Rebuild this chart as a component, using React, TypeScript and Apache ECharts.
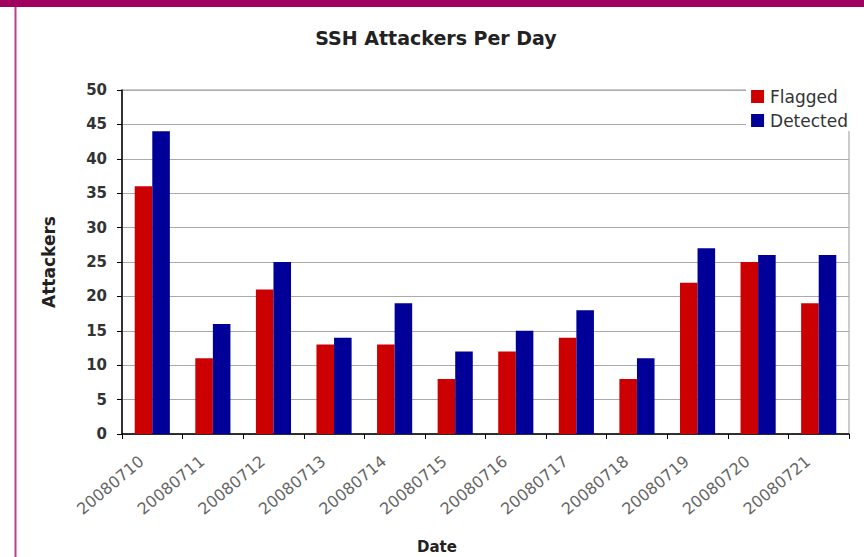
import React, { useEffect, useRef } from "react";
import * as echarts from "echarts";

const categories = [
  "20080710", "20080711", "20080712", "20080713", "20080714", "20080715",
  "20080716", "20080717", "20080718", "20080719", "20080720", "20080721",
];
const flagged = [36, 11, 21, 13, 13, 8, 12, 14, 8, 22, 25, 19];
const detected = [44, 16, 25, 14, 19, 12, 15, 18, 11, 27, 26, 26];
const seriesNames = ["Flagged", "Detected"];
const titleText = "SSH Attackers Per Day";
const yName = "Attackers";
const xName = "Date";

const FONT = "'DejaVu Sans', Verdana, sans-serif";

export default function App() {
  const ref = useRef<HTMLDivElement>(null);
  useEffect(() => {
    if (!ref.current) return;
    const chart = echarts.init(ref.current, undefined, { renderer: "svg" });
    chart.setOption({
      animation: false,
      backgroundColor: "#ffffff",
      title: {
        text: titleText,
        left: 431,
        textAlign: "center",
        top: 23,
        textStyle: { fontFamily: FONT, fontSize: 19, fontWeight: "bold", color: "#222" },
      },
      graphic: [
        { type: "rect", left: 0, top: 0, shape: { width: 864, height: 7 }, style: { fill: "#A0005F" }, z: 10 },
        { type: "line", shape: { x1: 15.5, y1: 7, x2: 15.5, y2: 557 }, style: { stroke: "#B8408A", lineWidth: 2 }, z: 10 },
        {
          type: "text",
          x: 437,
          y: 547,
          style: {
            text: xName,
            fontFamily: FONT,
            fontSize: 15,
            fontWeight: "bold",
            fill: "#222",
            align: "center",
            verticalAlign: "middle",
          },
          z: 10,
        },
      ],
      legend: {
        data: seriesNames,
        orient: "vertical",
        right: 14,
        top: 86,
        icon: "rect",
        itemWidth: 13,
        itemHeight: 13,
        itemGap: 7,
        padding: [2, 2, 2, 5],
        backgroundColor: "#ffffff",
        textStyle: { fontFamily: FONT, fontSize: 17, color: "#333", padding: [0, 0, 0, 1] },
      },
      grid: {
        left: 122,
        right: 15,
        top: 90,
        bottom: 123,
        show: true,
        borderColor: "#999",
        borderWidth: 1,
        containLabel: false,
        outerBoundsMode: "none",
      },
      xAxis: {
        type: "category",
        data: categories,
        axisLine: { lineStyle: { color: "#000", width: 1.5 } },
        axisTick: { show: true, length: 5, lineStyle: { color: "#000" } },
        axisLabel: {
          rotate: 40,
          interval: 0,
          margin: 16,
          padding: [0, 14, 0, 0],
          fontFamily: FONT,
          fontSize: 16,
          color: "#666",
        },
      },
      yAxis: {
        type: "value",
        min: 0,
        max: 50,
        interval: 5,
        name: yName,
        nameLocation: "middle",
        nameGap: 65,
        nameTextStyle: { fontFamily: FONT, fontSize: 17, fontWeight: "bold", color: "#222" },
        axisLine: { show: true, lineStyle: { color: "#000", width: 1.5 } },
        axisTick: { show: true, length: 5, lineStyle: { color: "#000" } },
        axisLabel: { margin: 15, fontFamily: FONT, fontSize: 15, fontWeight: "bold", color: "#333" },
        splitLine: { show: true, lineStyle: { color: "#aaa", width: 1 } },
      },
      series: [
        {
          name: seriesNames[0],
          type: "bar",
          data: flagged,
          itemStyle: { color: "#CC0000" },
          barGap: "0%",
          barCategoryGap: "42%",
        },
        {
          name: seriesNames[1],
          type: "bar",
          data: detected,
          itemStyle: { color: "#000099" },
          barGap: "0%",
          barCategoryGap: "42%",
        },
      ],
    });
    return () => chart.dispose();
  }, []);
  return (
    <div
      ref={ref}
      style={{ position: "absolute", left: 0, top: 0, width: 864, height: 557, background: "#fff" }}
    />
  );
}
